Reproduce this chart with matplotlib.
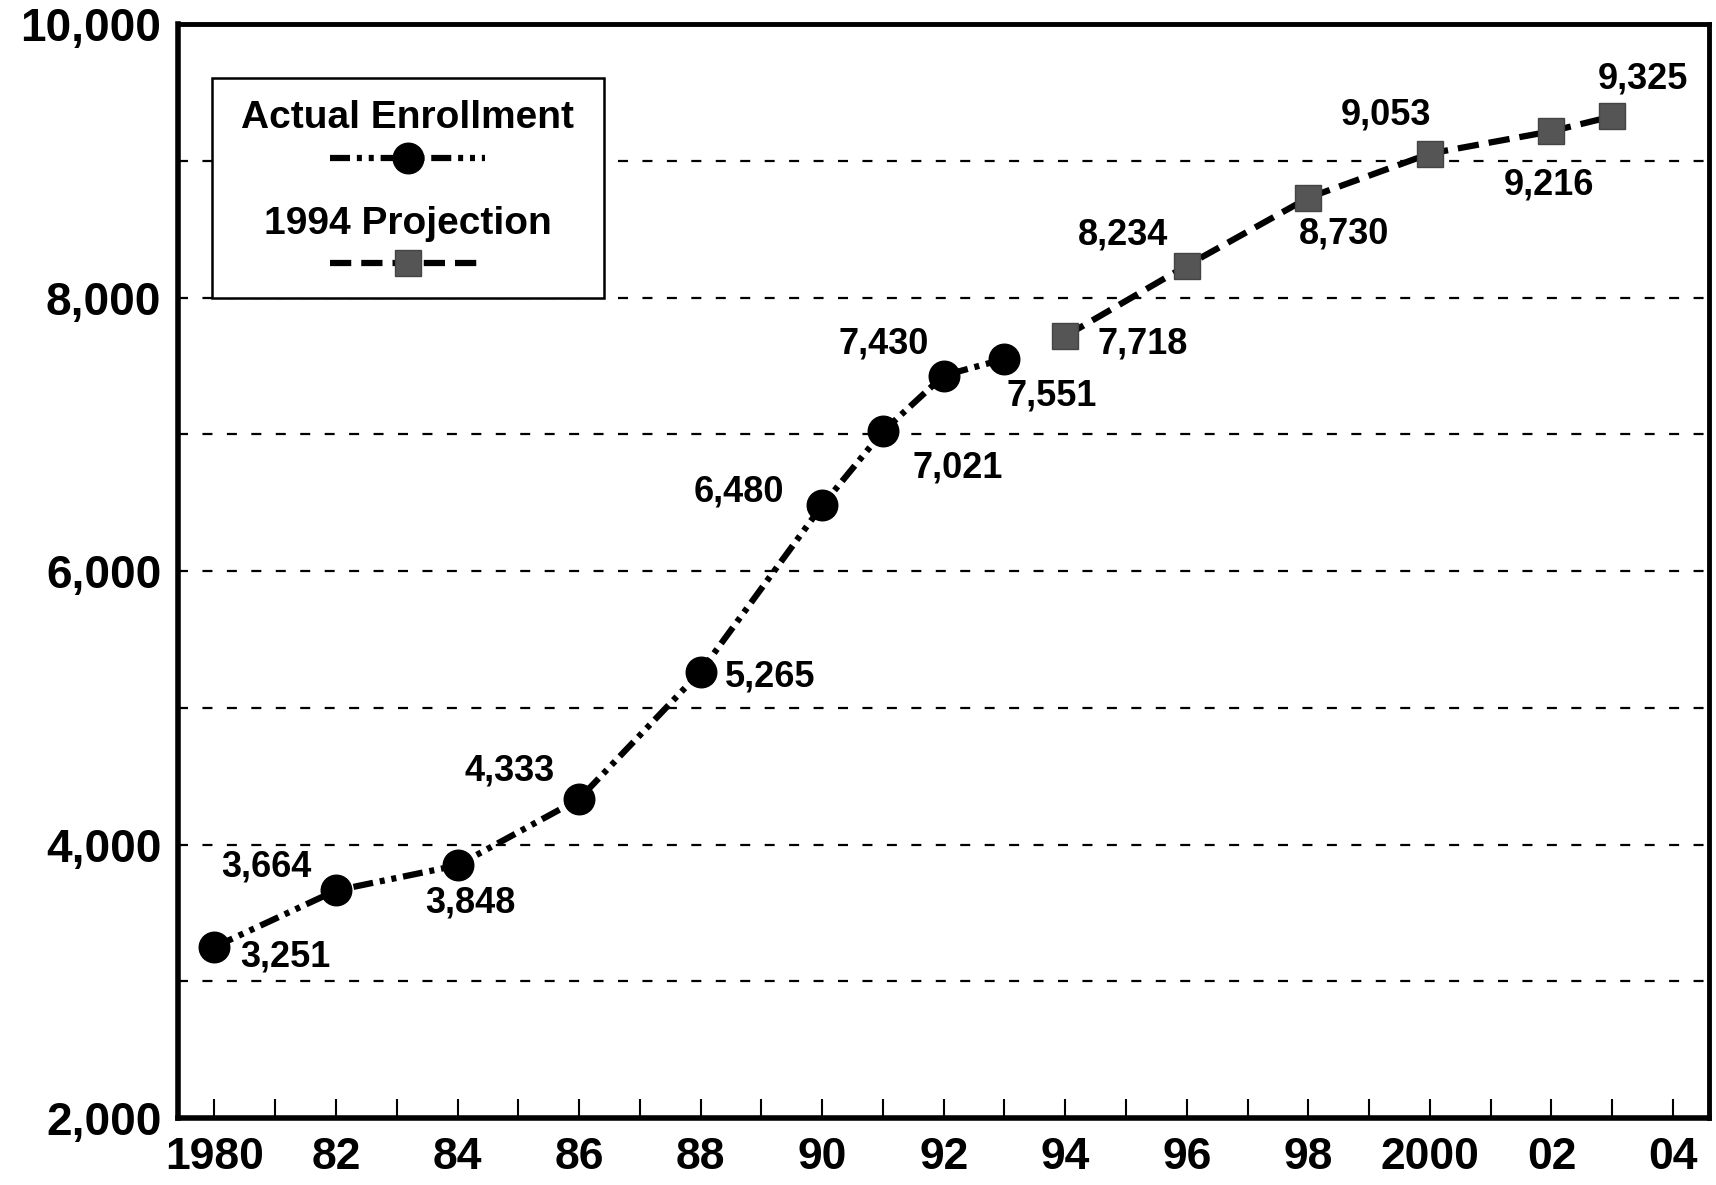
import matplotlib.pyplot as plt
from matplotlib.lines import Line2D
from matplotlib.patches import Rectangle

plt.rcParams['font.family'] = ['Liberation Sans', 'DejaVu Sans']
plt.rcParams['font.weight'] = 'bold'

# actual enrollment
actual_years = [1980, 1982, 1984, 1986, 1988, 1990, 1991, 1992, 1993]
actual_vals = [3251, 3664, 3848, 4333, 5265, 6480, 7021, 7430, 7551]
# label offsets (points) for each value
actual_offsets = [(51, -7), (-50, 17), (9, -27), (-50, 20), (50, -4),
                  (-60, 10), (54, -26), (-43, 23), (34, -27)]

# 1994 projection
proj_years = [1994, 1996, 1998, 2000, 2002, 2003]
proj_vals = [7718, 8234, 8730, 9053, 9216, 9325]
proj_offsets = [(56, -6), (-46, 22), (26, -26), (-32, 28), (-2, -39), (22, 27)]

xticks = list(range(1980, 2005, 2))
xticklabels = ['1980', '82', '84', '86', '88', '90', '92', '94', '96', '98',
               '2000', '02', '04']
yticks = [2000, 4000, 6000, 8000, 10000]
grid_vals = [3000, 4000, 5000, 6000, 7000, 8000, 9000]

ACTUAL_LS = (0, (3.2, 1.1, 0.8, 1.1, 0.8, 1.1))
PROJ_LS = (0, (3.4, 1.6))

fig = plt.figure(figsize=(17.16, 11.85), dpi=100)
ax = fig.add_axes([0.1037, 0.0565, 0.8925, 0.9232])

for g in grid_vals:
    ax.axhline(g, color='black', lw=1.6, ls=(0, (4.5, 6.5)), zorder=1)

lw = 4.5
ax.plot(actual_years, actual_vals, color='black', lw=lw, ls=ACTUAL_LS,
        marker='o', ms=22, mfc='black', mec='black', zorder=3)
ax.plot(proj_years, proj_vals, color='black', lw=lw, ls=PROJ_LS,
        marker='s', ms=19, mfc='#555555', mec='#444444', zorder=3)

for x, y, off in zip(actual_years, actual_vals, actual_offsets):
    ax.annotate(f'{y:,}', (x, y), xytext=off, textcoords='offset points',
                ha='center', va='center', fontsize=26, fontweight='bold')
for x, y, off in zip(proj_years, proj_vals, proj_offsets):
    ax.annotate(f'{y:,}', (x, y), xytext=off, textcoords='offset points',
                ha='center', va='center', fontsize=26, fontweight='bold')

ax.set_xlim(1979.4, 2004.6)
ax.set_ylim(2000, 10000)
ax.set_xticks(xticks)
ax.set_xticklabels(xticklabels)
ax.set_xticks(range(1980, 2005), minor=True)
ax.set_yticks(yticks)
ax.set_yticklabels([f'{v:,}' for v in yticks])
ax.tick_params(axis='x', which='both', direction='in', length=14, width=1.5,
               pad=14, labelsize=32)
ax.tick_params(axis='y', length=0, pad=12, labelsize=33)
for s in ['left', 'bottom']:
    ax.spines[s].set_linewidth(4)
for s in ['top', 'right']:
    ax.spines[s].set_linewidth(3.5)

# legend box drawn by hand (label above its line sample)
ax.add_patch(Rectangle((0.022, 0.7495), 0.256, 0.2015, transform=ax.transAxes,
                       fill=True, facecolor='white', edgecolor='black',
                       lw=1.8, zorder=4))
ax.text(0.150, 0.914, 'Actual Enrollment', transform=ax.transAxes,
        ha='center', va='center', fontsize=28, fontweight='bold', zorder=5)
ax.add_line(Line2D([0.0993, 0.2005], [0.8775, 0.8775], transform=ax.transAxes,
                   color='black', lw=lw, ls=ACTUAL_LS, zorder=5))
ax.add_line(Line2D([0.150], [0.8775], transform=ax.transAxes, marker='o',
                   ms=22, color='black', zorder=6))
ax.text(0.150, 0.817, '1994 Projection', transform=ax.transAxes,
        ha='center', va='center', fontsize=28, fontweight='bold', zorder=5)
ax.add_line(Line2D([0.0993, 0.2005], [0.7815, 0.7815], transform=ax.transAxes,
                   color='black', lw=lw, ls=PROJ_LS, zorder=5))
ax.add_line(Line2D([0.150], [0.7815], transform=ax.transAxes, marker='s',
                   ms=19, mfc='#555555', mec='#444444', zorder=6))

fig.savefig('out.png', dpi=100)
